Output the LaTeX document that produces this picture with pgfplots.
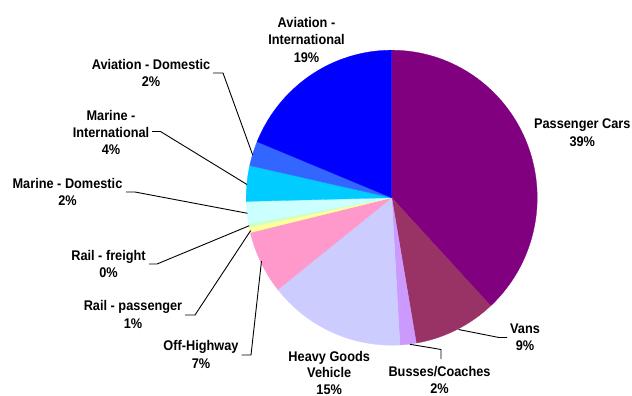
\documentclass[border=0pt]{standalone}
\usepackage{pgfplots}
\usepackage{pgfplotstable}
\pgfplotsset{compat=1.18}
\usepackage{fontspec}
\setmainfont{Liberation Sans}[FakeStretch=0.91]

\definecolor{c0}{HTML}{800080}
\definecolor{c1}{HTML}{993366}
\definecolor{c2}{HTML}{CC99FF}
\definecolor{c3}{HTML}{CCCCFF}
\definecolor{c4}{HTML}{FF99CC}
\definecolor{c5}{HTML}{FFFF99}
\definecolor{c6}{HTML}{CCFFCC}
\definecolor{c7}{HTML}{CCFFFF}
\definecolor{c8}{HTML}{00CCFF}
\definecolor{c9}{HTML}{3366FF}
\definecolor{c10}{HTML}{0000FF}

% shares of the pie, clockwise from 12 o'clock
\pgfplotstableread{
idx value
0 38.1
1 9.2
2 1.8
3 15.2
4 6.9
5 0.6
6 0.4
7 2.4
8 3.9
9 2.7
10 18.8
}\pietable

\newcommand\lfont{\fontsize{14bp}{17bp}\selectfont\bfseries}

\begin{document}
\begin{tikzpicture}
\begin{axis}[
  hide axis, scale only axis,
  width=632bp, height=396bp,
  xmin=0, xmax=632, ymin=0, ymax=396,
  y dir=reverse, clip=false,
]
\def\cum{0}
\pgfplotsforeachungrouped \i in {0,...,10}{%
  \pgfplotstablegetelem{\i}{value}\of\pietable
  \pgfmathsetmacro\cumB{\cum+\pgfplotsretval}%
  \pgfmathsetmacro\angA{90-3.6*\cum}%
  \pgfmathsetmacro\angB{90-3.6*\cumB}%
  \edef\temp{\noexpand\addplot[fill=c\i, draw=c\i, line width=0.3bp, domain=\angB:\angA, samples=90] ({391.7+145.5*cos(x)}, {197.7-147.5*sin(x)}) -- (axis cs:391.7,197.7) -- cycle;}%
  \temp
  \global\let\cum\cumB
}

% leader lines
\addplot[black, line width=0.9bp, mark=none] coordinates {(213,73) (223,73) (252.7,155)};
\addplot[black, line width=0.9bp, mark=none] coordinates {(152,131.5) (160.5,131.5) (247,184.5)};
\addplot[black, line width=0.9bp, mark=none] coordinates {(126,192) (135,192) (247.5,213.3)};
\addplot[black, line width=0.9bp, mark=none] coordinates {(149,264) (157,264) (249.3,225.7)};
\addplot[black, line width=0.9bp, mark=none] coordinates {(185,315) (195,315) (250.7,230.5)};
\addplot[black, line width=0.9bp, mark=none] coordinates {(241.5,355) (251,355) (261.5,261)};
\addplot[black, line width=0.9bp, mark=none] coordinates {(441,359) (441,349.5) (410,344.3)};
\addplot[black, line width=0.9bp, mark=none] coordinates {(507,337.5) (499,337.5) (458.5,329.5)};

% labels
\tikzset{lb/.style={anchor=base, inner sep=0pt, font=\lfont}}
\node[lb] at (axis cs:306.5,27.3) {Aviation -};
\node[lb] at (axis cs:306.5,44.8) {International};
\node[lb] at (axis cs:306.5,62.3) {19\%};

\node[lb] at (axis cs:582.3,128.7) {Passenger Cars};
\node[lb] at (axis cs:582.3,146.3) {39\%};

\node[lb] at (axis cs:151,69.5) {Aviation - Domestic};
\node[lb] at (axis cs:151,86.7) {2\%};

\node[lb] at (axis cs:111,120.3) {Marine -};
\node[lb] at (axis cs:111,137.5) {International};
\node[lb] at (axis cs:111,154.5) {4\%};

\node[lb] at (axis cs:67.5,188.4) {Marine - Domestic};
\node[lb] at (axis cs:67.5,205.5) {2\%};

\node[lb] at (axis cs:108.5,260.3) {Rail - freight};
\node[lb] at (axis cs:108.5,277.8) {0\%};

\node[lb] at (axis cs:133,310.7) {Rail - passenger};
\node[lb] at (axis cs:133,328.8) {1\%};

\node[lb] at (axis cs:201,350.8) {Off-Highway};
\node[lb] at (axis cs:201,368.5) {7\%};

\node[lb] at (axis cs:329.2,361.2) {Heavy Goods};
\node[lb] at (axis cs:329.2,377.9) {Vehicle};
\node[lb] at (axis cs:329.2,394.3) {15\%};

\node[lb] at (axis cs:439.5,376.7) {Busses/Coaches};
\node[lb] at (axis cs:439.5,393.8) {2\%};

\node[lb] at (axis cs:525,333.3) {Vans};
\node[lb] at (axis cs:525,350.5) {9\%};
\end{axis}
\pgfresetboundingbox
\path[use as bounding box] (current axis.south west) rectangle (current axis.north east);
\end{tikzpicture}
\end{document}
